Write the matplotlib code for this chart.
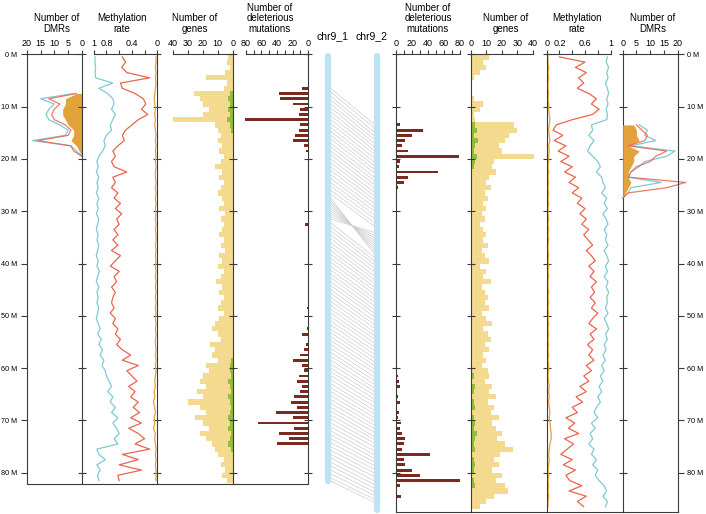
import numpy as np
import matplotlib
matplotlib.use('Agg')
import matplotlib.pyplot as plt

plt.rcParams['font.family'] = ['Liberation Sans', 'DejaVu Sans']

# ---------------------------------------------------------------------
# Data, 1 Mb bins (index = Mb from chromosome start)
# ---------------------------------------------------------------------
# chr9_1 (left side), 82 bins
l_meth_cyan = [0.98, 0.98, 0.97, 0.98, 0.97, 0.70, 0.92, 0.78, 0.70, 0.68,
               0.72, 0.66, 0.70, 0.74, 0.72, 0.80, 0.84, 0.82, 0.86, 0.92,
               0.95, 0.93, 0.96, 0.92, 0.95, 0.93, 0.96, 0.92, 0.95, 0.93,
               0.96, 0.92, 0.94, 0.96, 0.93, 0.95, 0.92, 0.94, 0.96, 0.93,
               0.95, 0.91, 0.94, 0.96, 0.92, 0.95, 0.93, 0.95, 0.92, 0.94,
               0.96, 0.93, 0.90, 0.94, 0.88, 0.92, 0.86, 0.90, 0.84, 0.87,
               0.82, 0.80, 0.76, 0.72, 0.78, 0.70, 0.74, 0.66, 0.72, 0.62,
               0.70, 0.64, 0.60, 0.68, 0.62, 0.95, 0.92, 0.82, 0.95, 0.90,
               0.94, 0.92]
l_meth_red = [0.55, 0.50, 0.56, 0.48, 0.12, 0.58, 0.55, 0.35, 0.22, 0.18,
              0.25, 0.15, 0.30, 0.40, 0.50, 0.55, 0.52, 0.62, 0.70, 0.66,
              0.72, 0.68, 0.48, 0.70, 0.66, 0.72, 0.62, 0.68, 0.58, 0.66,
              0.56, 0.64, 0.60, 0.68, 0.62, 0.70, 0.62, 0.72, 0.58, 0.66,
              0.74, 0.60, 0.68, 0.64, 0.72, 0.66, 0.70, 0.72, 0.68, 0.74,
              0.66, 0.70, 0.62, 0.66, 0.58, 0.64, 0.55, 0.42, 0.55, 0.30,
              0.48, 0.40, 0.32, 0.45, 0.35, 0.42, 0.30, 0.38, 0.28, 0.42,
              0.25, 0.45, 0.30, 0.20, 0.35, 0.12, 0.55, 0.30, 0.60, 0.25,
              0.62, 0.60]
l_meth_orange = [0.02, 0.02, 0.03, 0.02, 0.03, 0.02, 0.03, 0.04, 0.05, 0.04,
                 0.03, 0.04, 0.03, 0.04, 0.03, 0.02, 0.03, 0.02, 0.03, 0.02,
                 0.03, 0.02, 0.03, 0.03, 0.02, 0.03, 0.02, 0.03, 0.02, 0.03,
                 0.02, 0.03, 0.02, 0.03, 0.02, 0.02, 0.03, 0.02, 0.03, 0.02,
                 0.03, 0.02, 0.03, 0.02, 0.03, 0.02, 0.03, 0.02, 0.03, 0.02,
                 0.03, 0.02, 0.03, 0.02, 0.03, 0.03, 0.02, 0.03, 0.02, 0.03,
                 0.02, 0.03, 0.04, 0.03, 0.05, 0.04, 0.06, 0.04, 0.03, 0.05,
                 0.04, 0.06, 0.03, 0.04, 0.03, 0.02, 0.03, 0.02, 0.03, 0.02,
                 0.02, 0.02]
l_genes = [3, 4, 2, 5, 18, 4, 6, 26, 22, 20,
           16, 20, 40, 12, 10, 8, 10, 7, 9, 6,
           8, 12, 7, 9, 6, 8, 10, 7, 6, 9,
           5, 8, 6, 7, 9, 6, 8, 5, 9, 7,
           10, 6, 8, 11, 7, 9, 6, 8, 10, 6,
           9, 12, 14, 10, 8, 15, 12, 14, 10, 18,
           16, 20, 22, 18, 24, 20, 30, 22, 18, 25,
           20, 16, 22, 18, 14, 12, 10, 6, 8, 5,
           7, 4]
l_genes_green = [0, 0, 0, 0, 0, 0, 0, 2, 3, 2,
                 3, 2, 4, 2, 1, 0, 0, 0, 0, 0,
                 0, 0, 0, 0, 0, 0, 0, 0, 0, 0,
                 0, 0, 0, 0, 0, 0, 0, 0, 0, 0,
                 0, 0, 0, 0, 0, 0, 0, 0, 0, 0,
                 0, 0, 0, 0, 0, 0, 0, 0, 1, 2,
                 2, 1, 3, 2, 1, 3, 2, 1, 2, 3,
                 2, 3, 1, 2, 3, 1, 0, 0, 0, 0,
                 0, 0]
l_deleterious = [0, 0, 0, 0, 0, 0, 8, 37, 36, 20,
                 10, 12, 81, 10, 12, 17, 20, 6, 3, 0,
                 0, 0, 0, 0, 0, 0, 0, 0, 0, 0,
                 0, 0, 4, 0, 0, 0, 0, 0, 0, 0,
                 0, 0, 0, 0, 0, 0, 0, 0, 2, 0,
                 1, 0, 2, 8, 0, 3, 6, 10, 19, 8,
                 5, 12, 15, 8, 10, 18, 22, 15, 41, 20,
                 64, 18, 38, 25, 40, 0, 0, 0, 0, 0,
                 0, 0]
l_dmr_mb = [7, 8, 9, 10, 11, 12, 13, 14, 15, 16, 17, 18, 19]
l_dmr_cyan = [3, 15, 10, 12, 13, 12, 8, 5, 6, 18, 4, 2, 0]
l_dmr_red = [2, 12, 8, 10, 11, 10, 6, 4, 5, 16, 4, 3, 0]
l_dmr_orange = [2, 6, 6, 7, 7, 6, 5, 3, 3, 4, 2, 1, 0]

# chr9_2 (right side), 87 bins
r_meth_cyan = [0.95, 0.93, 0.97, 0.94, 0.96, 0.92, 0.95, 0.97, 0.94, 0.96,
               0.93, 0.95, 0.94, 0.70, 0.72, 0.66, 0.74, 0.68, 0.64, 0.72,
               0.80, 0.84, 0.78, 0.86, 0.88, 0.92, 0.86, 0.94, 0.90, 0.95,
               0.88, 0.93, 0.96, 0.90, 0.94, 0.92, 0.96, 0.90, 0.94, 0.97,
               0.92, 0.95, 0.90, 0.96, 0.93, 0.97, 0.94, 0.95, 0.92, 0.96,
               0.90, 0.94, 0.97, 0.92, 0.95, 0.90, 0.93, 0.88, 0.92, 0.86,
               0.90, 0.84, 0.88, 0.82, 0.86, 0.80, 0.84, 0.78, 0.74, 0.80,
               0.70, 0.76, 0.68, 0.72, 0.66, 0.74, 0.70, 0.78, 0.72, 0.80,
               0.76, 0.82, 0.90, 0.94, 0.88, 0.95, 0.92]
r_meth_red = [0.20, 0.60, 0.45, 0.62, 0.50, 0.58, 0.48, 0.66, 0.78, 0.70,
              0.82, 0.72, 0.40, 0.15, 0.10, 0.25, 0.12, 0.30, 0.18, 0.35,
              0.22, 0.40, 0.28, 0.45, 0.35, 0.50, 0.40, 0.55, 0.48, 0.60,
              0.52, 0.62, 0.55, 0.66, 0.58, 0.65, 0.72, 0.62, 0.70, 0.76,
              0.66, 0.74, 0.68, 0.78, 0.70, 0.75, 0.68, 0.76, 0.70, 0.80,
              0.72, 0.66, 0.78, 0.68, 0.74, 0.64, 0.72, 0.66, 0.74, 0.62,
              0.70, 0.58, 0.66, 0.52, 0.62, 0.46, 0.56, 0.40, 0.48, 0.30,
              0.44, 0.34, 0.50, 0.28, 0.42, 0.32, 0.22, 0.40, 0.26, 0.45,
              0.30, 0.36, 0.55, 0.35, 0.62, 0.48, 0.58]
r_meth_orange = [0.02, 0.02, 0.03, 0.02, 0.03, 0.02, 0.02, 0.03, 0.02, 0.03,
                 0.03, 0.04, 0.05, 0.04, 0.03, 0.04, 0.05, 0.03, 0.04, 0.03,
                 0.03, 0.02, 0.03, 0.02, 0.03, 0.02, 0.03, 0.02, 0.03, 0.02,
                 0.02, 0.03, 0.02, 0.03, 0.02, 0.03, 0.02, 0.02, 0.03, 0.02,
                 0.03, 0.02, 0.03, 0.02, 0.02, 0.03, 0.02, 0.03, 0.02, 0.03,
                 0.02, 0.03, 0.02, 0.03, 0.02, 0.03, 0.02, 0.03, 0.02, 0.03,
                 0.03, 0.02, 0.03, 0.04, 0.03, 0.04, 0.03, 0.04, 0.05, 0.04,
                 0.05, 0.06, 0.07, 0.07, 0.05, 0.04, 0.03, 0.04, 0.03, 0.02,
                 0.03, 0.02, 0.03, 0.02, 0.03, 0.02, 0.02]
r_genes = [12, 8, 10, 6, 2, 1, 0, 1, 2, 8,
           6, 2, 3, 28, 30, 25, 22, 18, 20, 41,
           15, 14, 16, 12, 10, 13, 9, 11, 8, 10,
           7, 9, 6, 8, 10, 8, 11, 7, 9, 12,
           6, 10, 8, 13, 7, 9, 11, 9, 12, 7,
           10, 14, 8, 11, 13, 9, 12, 8, 10, 7,
           11, 12, 9, 14, 12, 16, 11, 15, 13, 18,
           14, 16, 20, 17, 22, 27, 19, 15, 18, 14,
           20, 16, 22, 24, 15, 10, 6]
r_genes_green = [0, 0, 0, 0, 0, 0, 0, 0, 0, 0,
                 0, 0, 0, 3, 4, 2, 5, 3, 2, 4,
                 3, 2, 1, 0, 0, 0, 0, 0, 0, 0,
                 0, 0, 0, 0, 0, 0, 0, 0, 0, 0,
                 0, 0, 0, 0, 0, 0, 0, 0, 0, 0,
                 0, 0, 0, 0, 0, 0, 0, 0, 0, 0,
                 1, 2, 1, 3, 2, 1, 2, 3, 1, 2,
                 3, 2, 4, 3, 2, 3, 1, 2, 3, 2,
                 1, 2, 3, 1, 0, 0, 0]
r_deleterious = [0, 0, 0, 0, 0, 0, 0, 0, 0, 0,
                 0, 0, 0, 5, 34, 20, 12, 8, 15, 79,
                 5, 4, 53, 15, 10, 3, 2, 0, 0, 0,
                 0, 0, 0, 0, 0, 0, 0, 0, 0, 0,
                 0, 0, 0, 0, 0, 0, 0, 0, 0, 0,
                 0, 0, 0, 0, 0, 0, 0, 0, 0, 0,
                 0, 3, 4, 5, 2, 3, 5, 2, 4, 3,
                 6, 5, 8, 12, 10, 8, 43, 10, 12, 20,
                 30, 80, 5, 2, 7, 0, 0]
r_dmr_mb = [13, 14, 15, 16, 17, 18, 19, 20, 21, 22, 23, 24, 25, 26, 27]
r_dmr_cyan = [6, 9, 8, 12, 3, 19, 16, 8, 6, 3, 2, 14, 3, 2, 0]
r_dmr_red = [5, 7, 9, 8, 2, 16, 12, 10, 5, 3, 2, 23, 16, 2, 0]
r_dmr_orange = [4, 5, 5, 6, 2, 6, 4, 4, 3, 2, 2, 3, 2, 1, 0]

# collinear blocks chr9_1 (Mb) -> chr9_2 (Mb)
syn_chr1 = [6.5, 7.2, 8.0, 8.7, 9.5, 10.2, 11.0, 11.7, 12.5, 13.2,
            14.0, 14.7, 15.5, 16.2, 17.0, 17.7, 18.5, 19.2, 20.0, 20.7,
            21.5, 22.2, 23.0, 23.7, 24.5, 25.2, 26.0, 26.7, 27.5, 28.0,
            28.5, 29.0, 29.5, 30.0, 30.5, 31.0, 31.5, 32.2, 33.0, 33.7,
            34.5, 35.2, 36.0, 36.7, 37.5, 38.2, 39.0, 39.7, 40.5, 41.2,
            42.0, 42.7, 43.5, 44.2, 45.0, 45.7, 46.5, 47.2, 48.0, 48.7,
            49.5, 50.2, 51.0, 51.7, 52.5, 53.2, 54.0, 54.7, 55.5, 56.2,
            57.0, 57.7, 58.5, 59.2, 60.0, 60.7, 61.5, 62.2, 63.0, 63.7,
            64.5, 65.2, 66.0, 66.7, 67.5, 68.2, 69.0, 69.7, 70.5, 71.2,
            72.0, 72.7, 73.5, 74.2, 75.0, 75.7, 76.5, 77.2, 78.0, 78.7,
            79.5, 80.2, 81.0, 81.6]
syn_chr2 = [13.3, 14.0, 14.8, 15.5, 16.2, 16.9, 17.6, 18.3, 19.0, 19.8,
            20.5, 21.2, 21.9, 22.6, 23.4, 24.1, 24.8, 25.5, 26.3, 27.0,
            27.7, 28.4, 29.2, 29.9, 30.6, 31.3, 32.1, 32.8, 38.0, 37.5,
            37.0, 36.5, 36.0, 35.5, 35.0, 34.5, 34.0, 38.7, 39.4, 40.1,
            40.8, 41.5, 42.3, 43.0, 43.7, 44.4, 45.1, 45.8, 46.6, 47.3,
            48.0, 48.7, 49.4, 50.1, 50.9, 51.6, 52.3, 53.0, 53.7, 54.4,
            55.1, 55.8, 56.6, 57.3, 58.0, 58.7, 59.4, 60.1, 60.8, 61.6,
            62.3, 63.0, 63.7, 64.4, 65.1, 65.8, 66.5, 67.3, 68.0, 68.7,
            69.4, 70.1, 70.8, 71.5, 72.2, 73.0, 73.6, 74.3, 75.0, 75.8,
            76.5, 77.2, 77.9, 78.6, 79.3, 80.0, 80.7, 81.5, 82.2, 82.9,
            83.6, 84.3, 85.0, 85.6]

# ---------------------------------------------------------------------
# Layout (pixel based)
# ---------------------------------------------------------------------
W, H = 706, 514
fig = plt.figure(figsize=(W / 100, H / 100), dpi=100)

TOP = 54.3
PX_PER_MB = 5.23
L_BOTTOM = 484.3
R_BOTTOM = 512.0
L_MAX = (L_BOTTOM - TOP) / PX_PER_MB
R_MAX = (R_BOTTOM - TOP) / PX_PER_MB

CYAN = '#80c9d5'
RED = '#e9644f'
ORANGE = '#e3a23a'
YELLOW = '#f4da8e'
GREEN = '#93bd3c'
BROWN = '#7a2a1e'
CHR_BLUE = '#bfe4f1'
AXC = '#3a3a3a'


def px_axes(x0, x1, y0, y1):
    return fig.add_axes([x0 / W, 1 - y1 / H, (x1 - x0) / W, (y1 - y0) / H])


def style_panel(ax, ymax, xlim, ticks, labels, spines):
    ax.set_ylim(ymax, 0)
    ax.set_xlim(*xlim)
    ax.patch.set_visible(False)
    for s in ['left', 'right', 'top', 'bottom']:
        ax.spines[s].set_color(AXC)
        ax.spines[s].set_linewidth(0.8)
        ax.spines[s].set_visible(s in spines or s in ('top', 'bottom'))
    ax.spines['top'].set_bounds(min(ticks), max(ticks))
    ax.xaxis.tick_top()
    ax.set_xticks(ticks)
    ax.set_xticklabels(labels, fontsize=6.5)
    ax.tick_params(axis='x', direction='out', length=3, width=0.8,
                   pad=1.5, color=AXC)
    ax.set_yticks(range(0, 81, 10))
    ax.tick_params(axis='y', direction='inout', length=6, width=0.8,
                   color=AXC, left='left' in spines, right='right' in spines,
                   labelleft=False, labelright=False)


l_pos = np.arange(len(l_meth_cyan)) + 0.5
r_pos = np.arange(len(r_meth_cyan)) + 0.5
l_dpos = np.array(l_dmr_mb) + 0.5
r_dpos = np.array(r_dmr_mb) + 0.5

meth_ticks = [0, 0.2, 0.4, 0.6, 0.8, 1]
del_ticks = list(range(0, 81, 10))

# ----- left group -----
ax = px_axes(26.7, 82.0, TOP, L_BOTTOM)
ax.fill_betweenx(l_dpos, 0, l_dmr_orange, color=ORANGE, lw=0)
ax.plot(l_dmr_cyan, l_dpos, color=CYAN, lw=0.9)
ax.plot(l_dmr_red, l_dpos, color=RED, lw=0.9, alpha=0.85)
style_panel(ax, L_MAX, (20, 0), [0, 5, 10, 15, 20],
            ['0', '5', '10', '15', '20'], ['left'])
ax.tick_params(axis='y', direction='out', length=4.5, labelleft=True,
               labelsize=5.2, pad=2.5)
ax.set_yticklabels([f'{v} M' for v in range(0, 81, 10)])

ax = px_axes(82.0, 157.3, TOP, L_BOTTOM)
ax.plot(l_meth_red, l_pos, color=RED, lw=0.9)
ax.plot(l_meth_cyan, l_pos, color=CYAN, lw=0.9)
ax.plot(l_meth_orange, l_pos, color=ORANGE, lw=0.9)
style_panel(ax, L_MAX, (1.185, 0), meth_ticks,
            ['0', '', '0.4', '', '0.8', '1'], ['left', 'right'])

ax = px_axes(157.3, 232.7, TOP, L_BOTTOM)
ax.barh(l_pos, l_genes, height=1.0, color=YELLOW, lw=0)
ax.barh(l_pos, l_genes_green, height=1.0, color=GREEN, lw=0)
style_panel(ax, L_MAX, (50.3, 0), [0, 10, 20, 30, 40],
            ['0', '10', '20', '30', '40'], ['right'])

ax = px_axes(232.7, 308.3, TOP, L_BOTTOM)
ax.barh(l_pos, l_deleterious, height=0.55, color=BROWN, lw=0)
style_panel(ax, L_MAX, (96.6, 0), del_ticks,
            ['0', '', '20', '', '40', '', '60', '', '80'], ['right'])

# ----- right group -----
ax = px_axes(395.7, 470.7, TOP, R_BOTTOM)
ax.barh(r_pos, r_deleterious, height=0.55, color=BROWN, lw=0)
style_panel(ax, R_MAX, (0, 93.3), del_ticks,
            ['0', '', '20', '', '40', '', '60', '', '80'], ['left'])

ax = px_axes(470.7, 546.7, TOP, R_BOTTOM)
ax.barh(r_pos, r_genes, height=1.0, color=YELLOW, lw=0)
ax.barh(r_pos, r_genes_green, height=1.0, color=GREEN, lw=0)
style_panel(ax, R_MAX, (0, 49), [0, 10, 20, 30, 40],
            ['0', '10', '20', '30', '40'], ['left'])

ax = px_axes(546.7, 622.7, TOP, R_BOTTOM)
ax.plot(r_meth_red, r_pos, color=RED, lw=0.9)
ax.plot(r_meth_cyan, r_pos, color=CYAN, lw=0.9)
ax.plot(r_meth_orange, r_pos, color=ORANGE, lw=0.9)
style_panel(ax, R_MAX, (0, 1.19), meth_ticks,
            ['0', '0.2', '', '0.6', '', '1'], ['left', 'right'])

ax = px_axes(622.7, 677.7, TOP, R_BOTTOM)
ax.fill_betweenx(r_dpos, 0, r_dmr_orange, color=ORANGE, lw=0)
ax.plot(r_dmr_cyan, r_dpos, color=CYAN, lw=0.9, clip_on=False)
ax.plot(r_dmr_red, r_dpos, color=RED, lw=0.9, alpha=0.85, clip_on=False)
style_panel(ax, R_MAX, (0, 20), [0, 5, 10, 15, 20],
            ['0', '5', '10', '15', '20'], ['right'])
ax.tick_params(axis='y', direction='out', length=4.5, labelright=True,
               labelsize=5.2, pad=2.5)
ax.set_yticklabels([f'{v} M' for v in range(0, 81, 10)])

# ----- chromosomes and collinearity -----
cax = px_axes(308.3, 395.7, TOP, R_BOTTOM)
cax.set_xlim(0, 1)
cax.set_ylim(R_MAX, 0)
cax.axis('off')
for a, b in zip(syn_chr1, syn_chr2):
    cax.plot([0.256, 0.748], [a, b], color='#cdcdcd', lw=0.5, zorder=1)
cax.plot([0.222, 0.222], [0.3, L_MAX - 0.6], color=CHR_BLUE, lw=4.5,
         solid_capstyle='round', clip_on=False, zorder=2)
cax.plot([0.783, 0.783], [0.3, R_MAX - 0.4], color=CHR_BLUE, lw=4.5,
         solid_capstyle='round', clip_on=False, zorder=2)

# ----- headers -----
headers = [(57, 'Number of\nDMRs'), (122, 'Methylation\nrate'),
           (195, 'Number of\ngenes'), (270, 'Number of\ndeleterious\nmutations'),
           (428, 'Number of\ndeleterious\nmutations'), (506, 'Number of\ngenes'),
           (577, 'Methylation\nrate'), (653, 'Number of\nDMRs')]
for x, txt in headers:
    fig.text(x / W, 1 - 34 / H, txt, ha='center', va='bottom', fontsize=7,
             linespacing=1.08, multialignment='center')

fig.text(332.7 / W, 1 - 35.7 / H, 'chr9_1', ha='center', va='center', fontsize=7.5)
fig.text(371.7 / W, 1 - 35.7 / H, 'chr9_2', ha='center', va='center', fontsize=7.5)

plt.savefig('out.png', dpi=100)
